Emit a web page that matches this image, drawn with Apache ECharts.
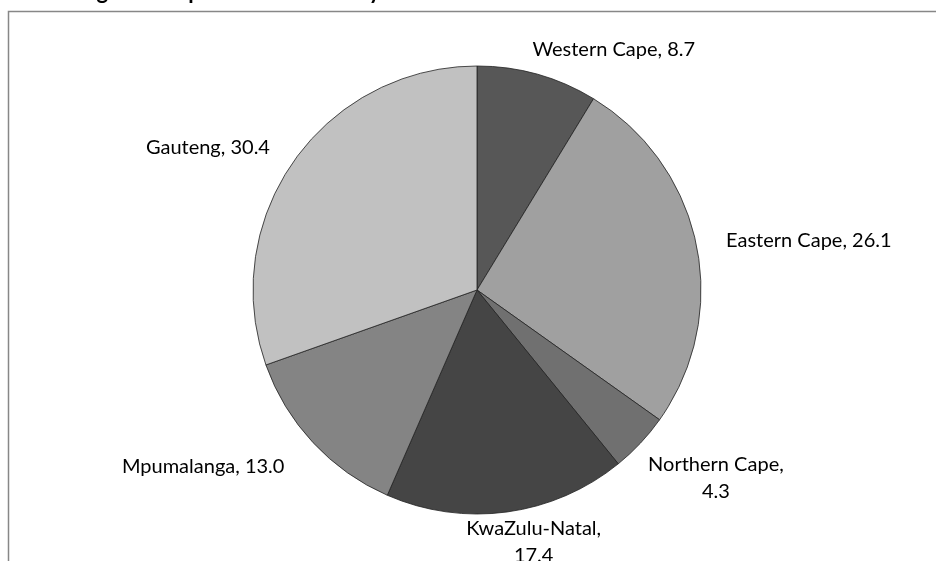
<!DOCTYPE html>
<html><head><meta charset="utf-8">
<script src="https://cdn.jsdelivr.net/npm/echarts@6/dist/echarts.min.js"></script>
<style>html,body{margin:0;padding:0;background:#fff}#c{width:936px;height:561px}</style>
</head><body><div id="c"></div>
<script>
const provinces = ['Western Cape','Eastern Cape','Northern Cape','KwaZulu-Natal','Mpumalanga','Gauteng'];
const values = [8.7, 26.1, 4.3, 17.4, 13.0, 30.4];
const colors = ['#575757','#a0a0a0','#707070','#454545','#848484','#c1c1c1'];
const wrapped = ['Northern Cape','KwaZulu-Natal'];
// small per-label nudges (style only), in px
const labelNudge = [[6,0],[14,1],[-4,11],[-3,-4],[-17,7],[-11,1]];

const CX = 477, CY = 290, R = 224, GAP = 16;
const total = values.reduce((a,b)=>a+b,0);
const midAngles = [];
let acc = 0;
values.forEach(v => { midAngles.push((acc + v/2) / total * 2 * Math.PI); acc += v; });

const chart = echarts.init(document.getElementById('c'));
chart.setOption({
  animation:false,
  backgroundColor:'#fff',
  graphic:[
    {type:'rect', shape:{x:8.5,y:11.5,width:1000,height:1000}, style:{fill:'none',stroke:'#878787',lineWidth:1.5}, silent:true},
    {type:'text', left:10, top:-19, style:{text:'Percentage of the poor households by area', font:'bold 22px Lato', fill:'#000'}}
  ],
  series:[{
    type:'pie',
    center:[CX,CY],
    radius:R,
    startAngle:90,
    clockwise:true,
    data: provinces.map((p,i)=>({name:p,value:values[i],itemStyle:{color:colors[i]}})),
    itemStyle:{borderColor:'#222',borderWidth:0.8},
    label:{
      show:true, position:'outside', color:'#000',
      fontFamily:'Lato', fontSize:20, lineHeight:27,
      formatter: p => wrapped.includes(p.name) ? p.name + ',\n' + p.value.toFixed(1) : p.name + ', ' + p.value.toFixed(1)
    },
    labelLine:{show:false},
    labelLayout: function(params){
      const i = params.dataIndex;
      const a = midAngles[i];
      const s = Math.sin(a), c = Math.cos(a);
      const ax = CX + s*(R+GAP), ay = CY - c*(R+GAP);
      const w = params.labelRect.width, h = params.labelRect.height;
      const fx = Math.max(-1, Math.min(1, s*3));
      return {x: ax + fx*w/2 + labelNudge[i][0], y: ay - c*h/2*0.7 + labelNudge[i][1], align:'center', verticalAlign:'middle'};
    }
  }]
});
</script></body></html>
